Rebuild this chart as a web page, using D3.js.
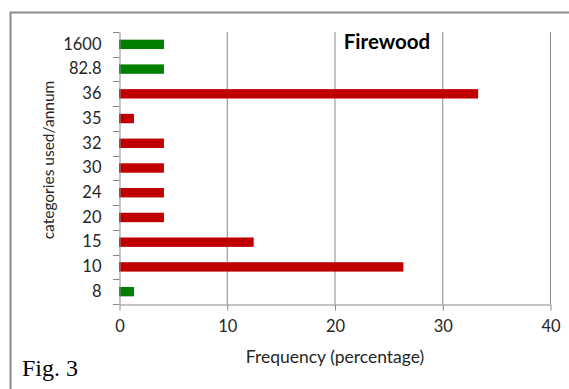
<!DOCTYPE html>
<html>
<head>
<meta charset="utf-8">
<script src="https://cdn.jsdelivr.net/npm/d3@7"></script>
<style>
  html, body { margin: 0; padding: 0; background: #fff; }
  svg { display: block; }
</style>
</head>
<body>
<svg id="chart" width="569" height="389"></svg>
<script>
// Firewood: share of respondents per category of use per annum
const categories = ["1600", "82.8", "36", "35", "32", "30", "24", "20", "15", "10", "8"];
const frequency  = [4.17, 4.17, 33.33, 1.39, 4.17, 4.17, 4.17, 4.17, 12.5, 26.39, 1.39];
const barColors  = ["#008000", "#008000", "#C00000", "#C00000", "#C00000", "#C00000",
                    "#C00000", "#C00000", "#C00000", "#C00000", "#008000"];
const xTicks = [0, 10, 20, 30, 40];

const svg = d3.select("#chart");
const W = 569, H = 389;
const plot = { left: 119, right: 550, top: 32, bottom: 304 };
const axisColor = "#898989";
const sans = "Lato, 'Open Sans', sans-serif";

// frame around the figure
svg.append("path")
  .attr("d", `M10.5,${H} L10.5,12.5 L${W},12.5`)
  .attr("fill", "none").attr("stroke", "#8c8c8c").attr("stroke-width", 2);

const x = d3.scaleLinear().domain([0, 40]).range([plot.left, plot.right]);
const y = d3.scaleBand().domain(categories).range([plot.top, plot.bottom]).paddingInner(0.62).paddingOuter(0.31);
const band = d3.scaleBand().domain(categories).range([plot.top, plot.bottom]);

// vertical gridlines
svg.append("g").selectAll("line").data(xTicks.filter(d => d > 0)).join("line")
  .attr("x1", d => x(d) + 0.5).attr("x2", d => x(d) + 0.5)
  .attr("y1", plot.top).attr("y2", plot.bottom)
  .attr("stroke", axisColor).attr("stroke-width", 1);

// bars
svg.append("g").selectAll("rect").data(categories).join("rect")
  .attr("x", x(0))
  .attr("y", d => y(d))
  .attr("width", (d, i) => x(frequency[i]) - x(0))
  .attr("height", y.bandwidth())
  .attr("fill", (d, i) => barColors[i]);

// x axis
const xAxis = svg.append("g")
  .attr("transform", `translate(0.5,${plot.bottom + 0.5})`)
  .call(d3.axisBottom(x).tickValues(xTicks).tickSizeInner(6).tickSizeOuter(0).tickPadding(10));
xAxis.select(".domain").attr("stroke", axisColor);
xAxis.selectAll(".tick line").attr("stroke", axisColor);
xAxis.selectAll(".tick text").attr("font-family", sans).attr("font-size", 16.5).attr("fill", "#262626");

// y axis: category labels, with tick marks on band boundaries
const yAxis = svg.append("g")
  .attr("transform", `translate(${plot.left + 0.5},0)`)
  .call(d3.axisLeft(band).tickSize(0).tickPadding(18));
yAxis.select(".domain").attr("stroke", axisColor);
yAxis.selectAll(".tick text").attr("font-family", sans).attr("font-size", 16.5).attr("fill", "#262626");

const boundaries = categories.map(c => band(c)).concat([plot.bottom]);
svg.append("g").selectAll("line").data(boundaries).join("line")
  .attr("x1", plot.left - 6).attr("x2", plot.left + 0.5)
  .attr("y1", d => Math.round(d) + 0.5).attr("y2", d => Math.round(d) + 0.5)
  .attr("stroke", axisColor);

// titles
svg.append("text")
  .attr("x", 387).attr("y", 49)
  .attr("text-anchor", "middle")
  .attr("font-family", sans).attr("font-weight", "bold").attr("font-size", 20.5)
  .attr("fill", "#000")
  .text("Firewood");

svg.append("text")
  .attr("x", 335).attr("y", 363)
  .attr("text-anchor", "middle")
  .attr("font-family", sans).attr("font-size", 17.5).attr("fill", "#262626")
  .text("Frequency (percentage)");

svg.append("text")
  .attr("transform", "translate(54,160) rotate(-90)")
  .attr("text-anchor", "middle")
  .attr("font-family", sans).attr("font-size", 15.5).attr("fill", "#262626")
  .text("categories used/annum");

svg.append("text")
  .attr("x", 22).attr("y", 376)
  .attr("font-family", "'Liberation Serif', 'DejaVu Serif', serif").attr("font-size", 24)
  .attr("fill", "#000")
  .text("Fig. 3");
</script>
</body>
</html>
